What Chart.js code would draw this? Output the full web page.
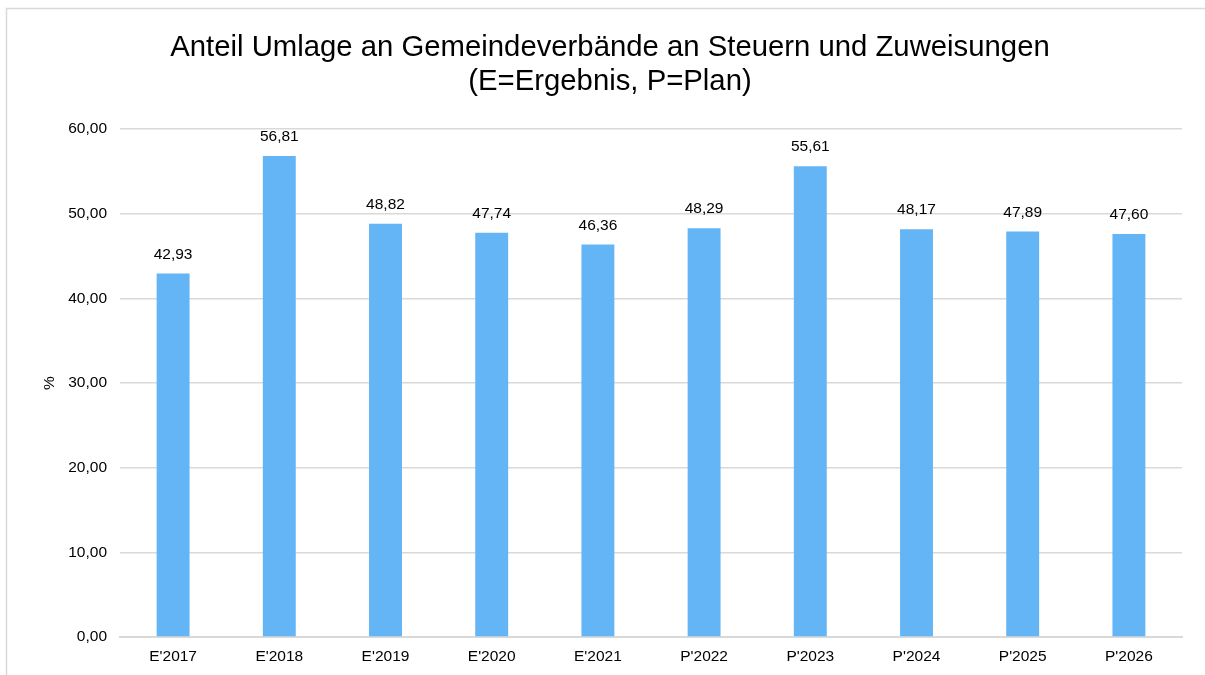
<!DOCTYPE html>
<html>
<head>
<meta charset="utf-8">
<script src="https://cdn.jsdelivr.net/npm/chart.js@4/dist/chart.umd.min.js"></script>
<style>
  html, body { margin: 0; padding: 0; background: #ffffff; }
  canvas { display: block; }
</style>
</head>
<body>
<canvas id="c" width="1205" height="675"></canvas>
<script>
const categories = ["E'2017", "E'2018", "E'2019", "E'2020", "E'2021", "P'2022", "P'2023", "P'2024", "P'2025", "P'2026"];
const values = [42.93, 56.81, 48.82, 47.74, 46.36, 48.29, 55.61, 48.17, 47.89, 47.60];
const titleLines = ["Anteil Umlage an Gemeindeverbände an Steuern und Zuweisungen", "(E=Ergebnis, P=Plan)"];
const yAxisTitle = "%";

const FONT = "'Liberation Sans', Arial, Helvetica, sans-serif";
const fmt = v => v.toFixed(2).replace('.', ',');

const frame = {
  id: 'frame',
  beforeDraw(chart) {
    const ctx = chart.ctx;
    ctx.save();
    ctx.fillStyle = '#ffffff';
    ctx.fillRect(0, 0, chart.width, chart.height);
    ctx.strokeStyle = '#d9d9d9';
    ctx.lineWidth = 1.5;
    ctx.strokeRect(6.5, 8.5, 1240, 720);
    ctx.restore();
  }
};

const labels = {
  id: 'valueLabels',
  afterDatasetsDraw(chart) {
    const ctx = chart.ctx;
    const meta = chart.getDatasetMeta(0);
    ctx.save();
    ctx.font = '15.5px ' + FONT;
    ctx.fillStyle = '#000000';
    ctx.textAlign = 'center';
    ctx.textBaseline = 'middle';
    meta.data.forEach((bar, i) => {
      ctx.fillText(fmt(values[i]), bar.x, bar.y - 19);
    });
    ctx.restore();
  }
};

new Chart(document.getElementById('c'), {
  type: 'bar',
  data: {
    labels: categories,
    datasets: [{
      data: values,
      backgroundColor: '#64b5f6',
      borderWidth: 0,
      barPercentage: 0.31,
      categoryPercentage: 1.0
    }]
  },
  options: {
    responsive: false,
    animation: false,
    layout: { padding: { left: 38, right: 23, top: 0, bottom: 0 } },
    plugins: {
      legend: { display: false },
      tooltip: { enabled: false },
      title: {
        display: true,
        text: titleLines,
        color: '#000000',
        font: { family: FONT, size: 29.3, weight: 'normal', lineHeight: 1.16 },
        padding: { top: 31, bottom: 30 }
      }
    },
    scales: {
      x: {
        grid: { display: false, drawTicks: false },
        border: { display: true, color: '#d9d9d9', width: 2 },
        ticks: { color: '#000000', font: { family: FONT, size: 15.5 }, padding: 10, maxRotation: 0, autoSkip: false },
        afterFit(scale) { scale.height = 38; }
      },
      y: {
        min: 0,
        max: 60,
        ticks: {
          stepSize: 10,
          color: '#000000',
          font: { family: FONT, size: 15.5 },
          padding: 13,
          callback: v => fmt(v)
        },
        grid: { color: '#d9d9d9', lineWidth: 1.5, drawTicks: false },
        border: { display: false },
        title: {
          display: true,
          text: yAxisTitle,
          color: '#000000',
          font: { family: FONT, size: 15.5 },
          padding: { top: 2, bottom: 0 }
        },
        afterFit(scale) { scale.width = 82; }
      }
    }
  },
  plugins: [frame, labels]
});
</script>
</body>
</html>
